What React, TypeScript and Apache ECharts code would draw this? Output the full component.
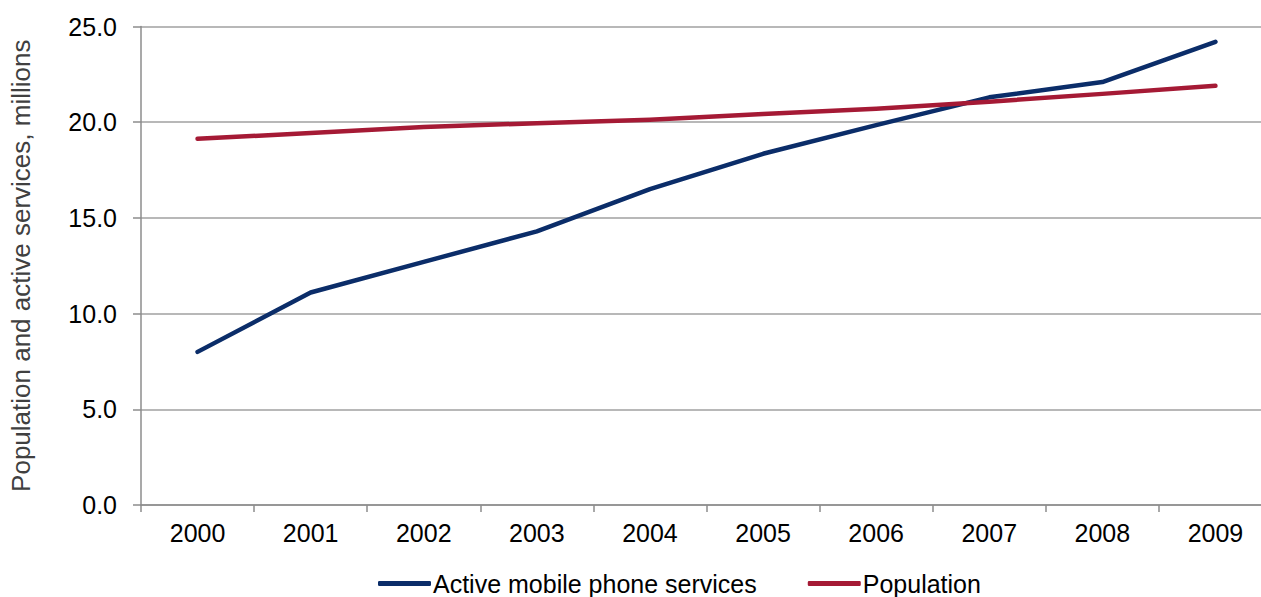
import React, { useEffect, useRef } from "react";
import * as echarts from "echarts";

const years = ["2000", "2001", "2002", "2003", "2004", "2005", "2006", "2007", "2008", "2009"];
const activeServices = [8.0, 11.1, 12.7, 14.3, 16.5, 18.35, 19.85, 21.3, 22.1, 24.2];
const population = [19.13, 19.44, 19.75, 19.95, 20.13, 20.43, 20.7, 21.07, 21.48, 21.9];
const yTickMax = 25;
const yTickStep = 5;

export default function App() {
  const ref = useRef<HTMLDivElement>(null);
  useEffect(() => {
    document.body.style.margin = "0";
    const chart = echarts.init(ref.current!, null, { renderer: "svg" });
    const font = "'Liberation Sans', Arial, sans-serif";
    chart.setOption({
      animation: false,
      backgroundColor: "#ffffff",
      textStyle: { fontFamily: font },
      grid: {
        left: 141,
        top: 26.5,
        width: 1131,
        height: 478.5,
        outerBoundsMode: "none",
        containLabel: false,
      },
      legend: {
        top: 571,
        left: 378,
        padding: 0,
        itemWidth: 53,
        itemHeight: 5,
        itemGap: 51,
        textStyle: { fontSize: 25, color: "#000", fontFamily: font, padding: [0, 0, 0, -3] },
        icon: "roundRect",
        data: [
          { name: "Active mobile phone services", itemStyle: { color: "#0B2D69" } },
          { name: "Population", itemStyle: { color: "#A51A35" } },
        ],
      },
      xAxis: {
        type: "category",
        data: years,
        boundaryGap: true,
        axisLine: { lineStyle: { color: "#8c8c8c", width: 1.5 } },
        axisTick: { show: true, length: 7, lineStyle: { color: "#8c8c8c", width: 1.5 }, alignWithLabel: false },
        axisLabel: { fontSize: 25, color: "#000", margin: 15, fontFamily: font },
      },
      yAxis: {
        type: "value",
        min: 0,
        max: yTickMax,
        interval: yTickStep,
        name: "Population and active services, millions",
        nameLocation: "middle",
        nameGap: 107,
        nameTextStyle: { fontSize: 26, color: "#404040", fontFamily: font },
        axisLine: { show: true, lineStyle: { color: "#8c8c8c", width: 1.5 } },
        axisTick: { show: true, length: 8, lineStyle: { color: "#8c8c8c", width: 1.5 } },
        splitLine: { show: true, lineStyle: { color: "#a0a0a0", width: 1.5 } },
        axisLabel: {
          fontSize: 25,
          color: "#000",
          margin: 24,
          fontFamily: font,
          formatter: (v: number) => v.toFixed(1),
        },
      },
      series: [
        {
          name: "Active mobile phone services",
          type: "line",
          data: activeServices,
          symbol: "none",
          lineStyle: { color: "#0B2D69", width: 4.5, cap: "round", join: "round" },
          itemStyle: { color: "#0B2D69" },
          z: 3,
        },
        {
          name: "Population",
          type: "line",
          data: population,
          symbol: "none",
          lineStyle: { color: "#A51A35", width: 4.5, cap: "round", join: "round" },
          itemStyle: { color: "#A51A35" },
          z: 4,
        },
      ],
    });
    return () => chart.dispose();
  }, []);
  return <div ref={ref} style={{ width: 1261, height: 597 }} />;
}
